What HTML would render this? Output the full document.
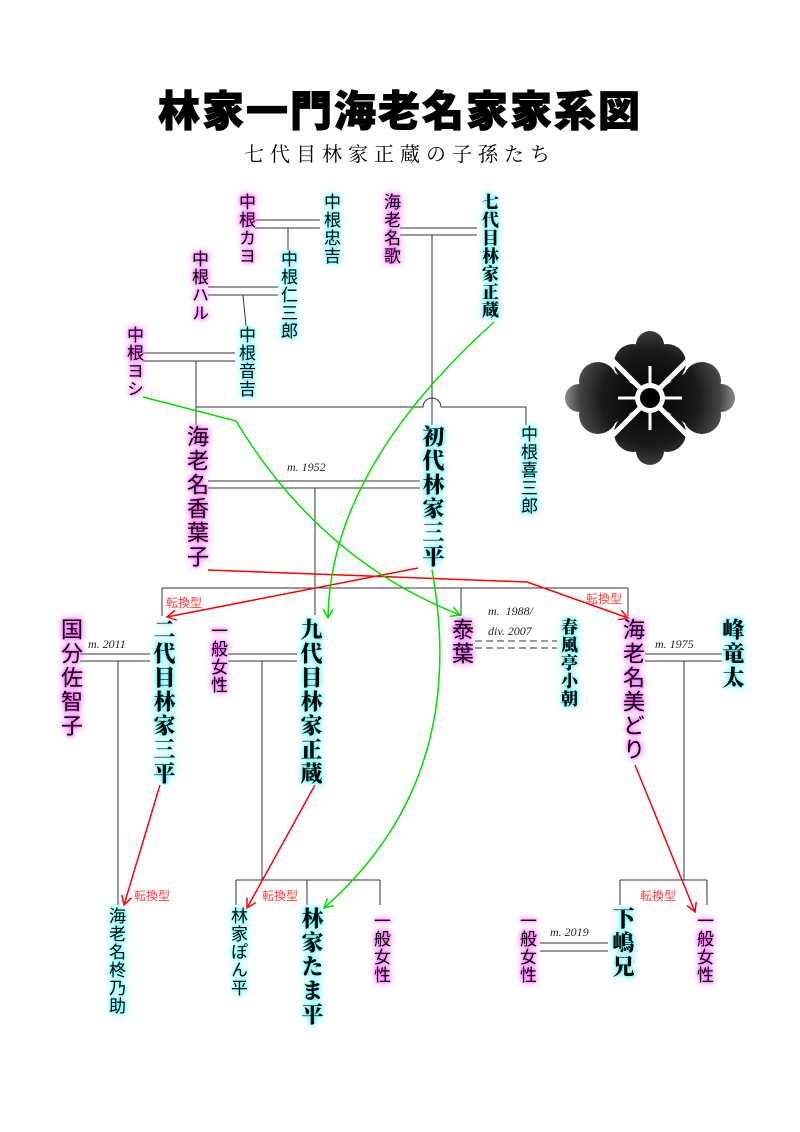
<!DOCTYPE html>
<html><head><meta charset="utf-8">
<style>
html,body{margin:0;padding:0;background:#fff}
#w{position:relative;width:800px;height:1132px;overflow:hidden;font-family:"Liberation Sans","Noto Sans CJK JP",sans-serif}
svg{position:absolute;left:0;top:0}
.n{position:absolute;writing-mode:vertical-rl;line-height:1;white-space:nowrap;color:#000;font-family:"Liberation Sans","Noto Sans CJK JP",sans-serif}
.m{text-shadow:0 0 3px #f4f,0 0 6px #f6f,0 0 8px #f8f}
.c{text-shadow:0 0 3px #4ff,0 0 6px #6ff,0 0 8px #8ff}
.b{font-family:"Liberation Serif","Noto Serif CJK SC",serif;font-weight:900}
.s{font-size:17px;letter-spacing:1px}
.L{font-size:22px;letter-spacing:2px}
.t{position:absolute;font-family:"Liberation Serif",serif;font-style:italic;font-size:12px;color:#222}
.r{position:absolute;font-size:12px;color:#f44;font-family:"Liberation Sans","Noto Sans CJK JP",sans-serif}
</style></head><body><div id="w">
<div style="position:absolute;left:0;width:800px;top:78px;text-align:center;font-size:42px;font-weight:900;letter-spacing:2px;font-family:'Liberation Sans','Noto Sans CJK JP',sans-serif;-webkit-text-stroke:1px #000">林家一門海老名家家系図</div>
<div style="position:absolute;left:0;width:800px;top:138px;text-align:center;font-size:20px;letter-spacing:6px;font-family:'Liberation Serif','Noto Serif CJK SC',serif">七代目林家正蔵の子孫たち</div>

<svg width="800" height="1132" viewBox="0 0 800 1132">
<defs>
<marker id="ar" markerWidth="12" markerHeight="12" refX="10" refY="6" orient="auto" markerUnits="userSpaceOnUse"><path d="M1,1 L10,6 L1,11" fill="none" stroke="#f00" stroke-width="1.5"/></marker>
<marker id="ag" markerWidth="12" markerHeight="12" refX="10" refY="6" orient="auto" markerUnits="userSpaceOnUse"><path d="M1,1 L10,6 L1,11" fill="none" stroke="#0d0" stroke-width="1.5"/></marker>
<radialGradient id="pg" gradientUnits="userSpaceOnUse" cx="650" cy="398" r="88"><stop offset="0" stop-color="#000"/><stop offset="0.55" stop-color="#1a1a1a"/><stop offset="0.8" stop-color="#444"/><stop offset="1" stop-color="#999"/></radialGradient>
</defs>
<g stroke="#333" stroke-width="1" fill="none">
<path d="M255 220H320M255 228H320M288 228V250"/>
<path d="M208 287H278M208 295H278M243 295L246 326"/>
<path d="M143 353H235M143 361H235M196 361V425"/>
<path d="M196 407H423A9 9 0 0 1 441 407H526V425"/>
<path d="M400 228H477M400 235H477M432 235V425"/>
<path d="M208 481H420M208 488H420M315 488V615"/>
<path d="M162 588H628M162 588V616M461 588V616M628 588V616"/>
<path d="M80 654H150M80 661H150M118 661V905"/>
<path d="M228 654H297M228 661H297M262 661V880"/>
<path d="M236 880H380M236 880V905M307 880V905M380 880V905"/>
<path d="M475 641H557M475 648H557" stroke-dasharray="7 4"/>
<path d="M645 654H722M645 661H722M684 661V880"/>
<path d="M620 880H707M620 880V905M707 880V905"/>
<path d="M540 943H608M540 951H608"/>
</g>
<g fill="none" stroke-width="1.5">
<path d="M208 570L527 582L628 618" stroke="#f00" marker-end="url(#ar)"/>
<path d="M418 568L167 617" stroke="#f00" marker-end="url(#ar)"/>
<path d="M160 785L124 905" stroke="#f00" marker-end="url(#ar)"/>
<path d="M315 785L247 908" stroke="#f00" marker-end="url(#ar)"/>
<path d="M635 765L695 912" stroke="#f00" marker-end="url(#ar)"/>
<path d="M494 322Q330 470 328 618" stroke="#0d0" marker-end="url(#ag)"/>
<path d="M143 397L236 421Q320 560 460 615" stroke="#0d0" marker-end="url(#ag)"/>
<path d="M432 570Q470 780 324 908" stroke="#0d0" marker-end="url(#ag)"/>
</g>
<!-- crest -->
<g fill="url(#pg)">
<!-- top -->
<circle cx="633" cy="363" r="19"/><circle cx="667" cy="363" r="19"/><circle cx="650" cy="345" r="14"/>
<polygon points="614,363 686,363 650,400"/>
<!-- bottom -->
<circle cx="633" cy="433" r="19"/><circle cx="667" cy="433" r="19"/><circle cx="650" cy="451" r="14"/>
<polygon points="614,433 686,433 650,396"/>
<!-- left -->
<circle cx="598" cy="381" r="19"/><circle cx="598" cy="415" r="19"/><circle cx="579" cy="398" r="14"/>
<polygon points="598,362 598,434 654,398"/>
<!-- right -->
<circle cx="702" cy="381" r="19"/><circle cx="702" cy="415" r="19"/><circle cx="721" cy="398" r="14"/>
<polygon points="702,362 702,434 646,398"/>
</g>
<g stroke="#fff" stroke-width="5"><path d="M600 348L700 448M700 348L600 448"/></g>
<circle cx="650" cy="398" r="40" fill="#000" opacity="0.0"/>
<g stroke="#fff" stroke-width="3"><path d="M650 366V430M618 398H682"/></g>
<circle cx="650" cy="398" r="15" fill="#fff"/><circle cx="650" cy="398" r="10" fill="#000"/>
</svg>

<div class="t" style="left:287px;top:460px">m. 1952</div>
<div class="t" style="left:88px;top:637px">m. 2011</div>
<div class="t" style="left:488px;top:604px">m.&nbsp;&nbsp;1988/</div>
<div class="t" style="left:488px;top:624px">div. 2007</div>
<div class="t" style="left:655px;top:637px">m. 1975</div>
<div class="t" style="left:550px;top:925px">m. 2019</div>
<div class="r" style="left:166px;top:594px">転換型</div>
<div class="r" style="left:586px;top:590px">転換型</div>
<div class="r" style="left:134px;top:887px">転換型</div>
<div class="r" style="left:262px;top:887px">転換型</div>
<div class="r" style="left:640px;top:887px">転換型</div>

<div class="n s m" style="left:237px;top:193px">中根カヨ</div>
<div class="n s c" style="left:322px;top:193px">中根忠吉</div>
<div class="n s m" style="left:190px;top:250px">中根ハル</div>
<div class="n s c" style="left:279px;top:250px">中根仁三郎</div>
<div class="n s m" style="left:125px;top:326px">中根ヨシ</div>
<div class="n s c" style="left:237px;top:326px">中根音吉</div>
<div class="n s m" style="left:382px;top:193px">海老名歌</div>
<div class="n s c b" style="left:480px;top:193px">七代目林家正蔵</div>
<div class="n L m" style="left:185px;top:425px">海老名香葉子</div>
<div class="n L c b" style="left:421px;top:425px">初代林家三平</div>
<div class="n s c" style="left:519px;top:425px">中根喜三郎</div>
<div class="n L m" style="left:59px;top:618px">国分佐智子</div>
<div class="n L c b" style="left:152px;top:618px">二代目林家三平</div>
<div class="n s m" style="left:209px;top:622px">一般女性</div>
<div class="n L c b" style="left:299px;top:618px">九代目林家正蔵</div>
<div class="n L m" style="left:450px;top:618px">泰葉</div>
<div class="n s c b" style="left:559px;top:618px">春風亭小朝</div>
<div class="n L m" style="left:621px;top:618px">海老名美どり</div>
<div class="n L c b" style="left:721px;top:618px">峰竜太</div>
<div class="n s c" style="left:107px;top:907px">海老名柊乃助</div>
<div class="n s c" style="left:229px;top:907px">林家ぽん平</div>
<div class="n L c b" style="left:300px;top:907px">林家たま平</div>
<div class="n s m" style="left:372px;top:912px">一般女性</div>
<div class="n s m" style="left:518px;top:912px">一般女性</div>
<div class="n L c b" style="left:611px;top:907px">下嶋兄</div>
<div class="n s m" style="left:695px;top:912px">一般女性</div>
</div></body></html>
